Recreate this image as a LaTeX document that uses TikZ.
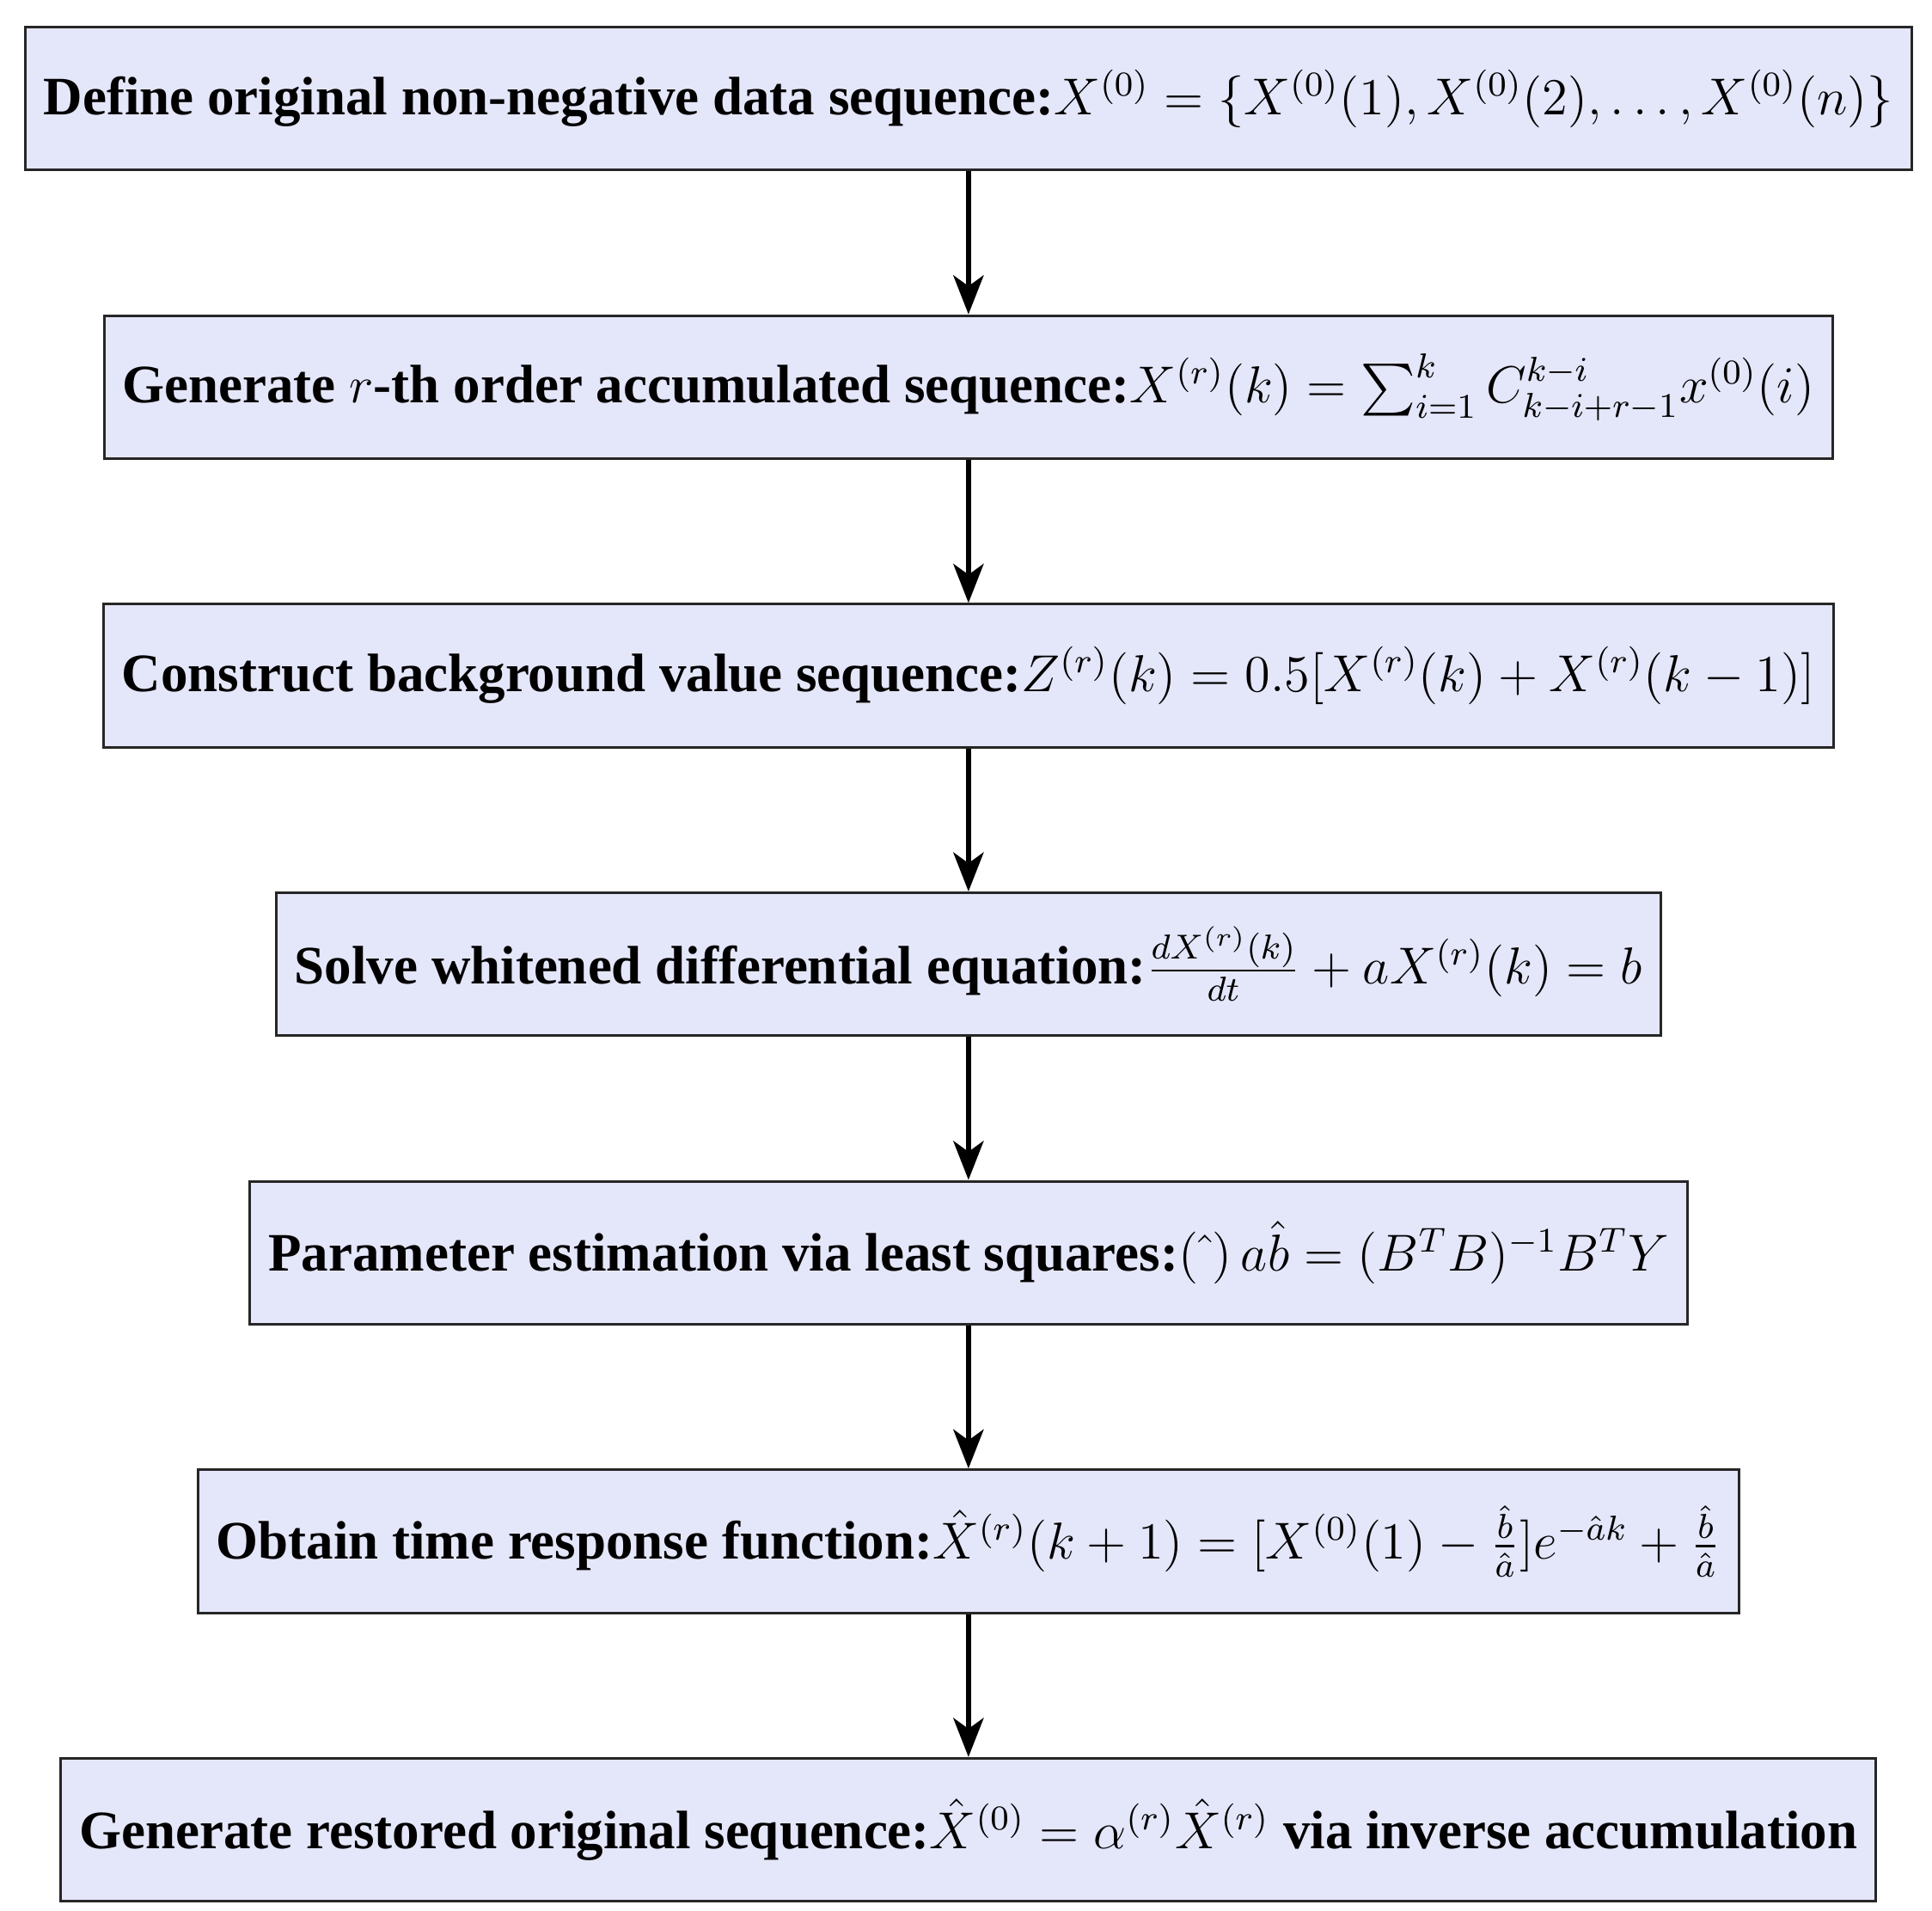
\documentclass[tikz,border=0pt]{standalone}
\usepackage{amsmath}
\usepackage[no-math]{fontspec}
\setmainfont{Liberation Serif}
\usepackage{tikz}
\usetikzlibrary{positioning}
\usetikzlibrary{arrows.meta}
\definecolor{boxfill}{RGB}{228,230,249}
\newcommand{\fm}[1]{{\fontsize{11.5}{13}\selectfont$#1$}}

\begin{document}
\begin{tikzpicture}[
    stepbox/.style={draw=black!85, line width=0.6pt, fill=boxfill, minimum height=1.16cm,
        inner xsep=0.15cm, font=\fontsize{12.5}{14}\selectfont\bfseries},
    flow/.style={-{Stealth[length=9pt, width=7pt, inset=2.5pt]}, line width=1.1pt},
    node distance=1.16cm
]
    \useasboundingbox (0,0) rectangle (15.68,15.50);

    \node[stepbox] (define) at (7.86,14.70) {Define original non-negative data sequence:\fm{X^{(0)} = \{X^{(0)}(1), X^{(0)}(2), \ldots, X^{(0)}(n)\}}};
    \node[stepbox, below=of define] (accum) {Generate \fm{r}-th order accumulated sequence:\fm{X^{(r)}(k) = \sum_{i=1}^{k} C_{k-i+r-1}^{k-i} x^{(0)}(i)}};
    \node[stepbox, below=of accum] (backgr) {Construct background value sequence:\fm{Z^{(r)}(k) = 0.5[X^{(r)}(k) + X^{(r)}(k-1)]}};
    \node[stepbox, below=of backgr] (whiten) {Solve whitened differential equation:\fm{\frac{dX^{(r)}(k)}{dt} + aX^{(r)}(k) = b}};
    \node[stepbox, below=of whiten] (lsq) {Parameter estimation via least squares:\fm{(\hat{\;})\,a\hat{b} = (B^TB)^{-1}B^TY}};
    \node[stepbox, below=of lsq] (resp) {Obtain time response function:\fm{\hat{X}^{(r)}(k+1) = [X^{(0)}(1) - \frac{\hat{b}}{\hat{a}}]e^{-\hat{a}k} + \frac{\hat{b}}{\hat{a}}}};
    \node[stepbox, below=of resp] (restore) {Generate restored original sequence:\fm{\hat{X}^{(0)} = \alpha^{(r)}\hat{X}^{(r)}} via inverse accumulation};

    \foreach \a/\b in {define/accum, accum/backgr, backgr/whiten, whiten/lsq, lsq/resp, resp/restore}
        \draw[flow] (\a) -- (\b);
\end{tikzpicture}
\end{document}
